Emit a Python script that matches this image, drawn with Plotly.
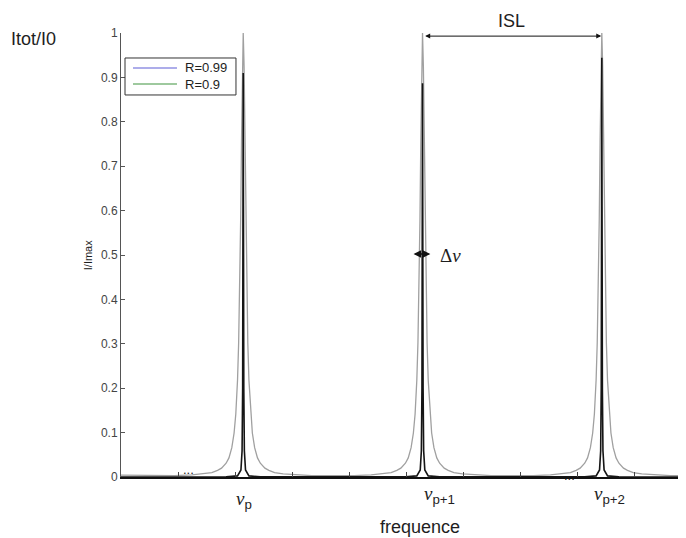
import plotly.graph_objects as go

# peak positions (x axis in phase units, ticks at integers)
peak_centers = [3.1416, 6.2832, 9.4248]

# R=0.9 curve (wide, grey), offsets from each peak and values
gray_offsets = [-1.57, -1.2, -0.9, -0.7, -0.55, -0.45, -0.38, -0.3, -0.25, -0.2, -0.16, -0.13,
                -0.1, -0.08, -0.06, -0.045, -0.03, -0.015, 0, 0.015, 0.03, 0.045, 0.06, 0.08,
                0.1, 0.13, 0.16, 0.2, 0.25, 0.3, 0.38, 0.45, 0.55, 0.7, 0.9, 1.2, 1.57]
gray_profile = [0.003, 0.003, 0.005, 0.007, 0.01, 0.015, 0.02, 0.031, 0.043, 0.066, 0.099, 0.142,
                0.218, 0.303, 0.437, 0.578, 0.755, 0.925, 1.0, 0.925, 0.755, 0.578, 0.437, 0.303,
                0.218, 0.142, 0.099, 0.066, 0.043, 0.031, 0.02, 0.015, 0.01, 0.007, 0.005, 0.003, 0.003]

# R=0.99 curve (narrow, black)
black_offsets = [-1.57, -0.3, -0.1, -0.04, -0.02, -0.01, -0.004, 0, 0.004, 0.01, 0.02, 0.04, 0.1, 0.3, 1.57]
black_profile = [0.0, 0.0003, 0.0025, 0.016, 0.059, 0.2, 0.61, None, 0.61, 0.2, 0.059, 0.016, 0.0025, 0.0003, 0.0]
black_peaks = [0.91, 0.887, 0.944]

y_ticks = [0, 0.1, 0.2, 0.3, 0.4, 0.5, 0.6, 0.7, 0.8, 0.9, 1]
y_ticktext = ['0', '0.1', '0.2', '0.3', '0.4', '0.5', '0.6', '0.7', '0.8', '0.9', '1']
x_ticks = [2, 3, 4, 5, 6, 7, 8, 9, 10]
peak_labels = ['p', 'p+1', 'p+2']
legend_names = ['R=0.99', 'R=0.9']
legend_colors = ['#5c5cd6', '#3f943f']

gx, gy = [1.0], [0.004]
for c in peak_centers:
    gx += [c + o for o in gray_offsets]
    gy += gray_profile

bx, by = [1.0], [0.0]
for c, h in zip(peak_centers, black_peaks):
    bx += [c + o for o in black_offsets]
    by += [h if v is None else v for v in black_profile]

ARIAL = 'Liberation Sans, Arial'
TIMES = 'Liberation Serif, Times New Roman'

fig = go.Figure()
fig.add_trace(go.Scatter(x=gx, y=gy, mode='lines', line=dict(color='#a0a0a0', width=1.3),
                         showlegend=False, hoverinfo='skip'))
fig.add_trace(go.Scatter(x=bx, y=by, mode='lines', line=dict(color='#151515', width=1.6),
                         showlegend=False, hoverinfo='skip'))


def txt(x, y, s, size, xref='paper', yref='paper', family=ARIAL, **kw):
    return dict(xref=xref, yref=yref, x=x, y=y, text=s, showarrow=False, xanchor=kw.pop('xanchor', 'center'),
                yanchor='middle', font=dict(family=family, size=size, color='#1e1e1e'), **kw)


ann = [
    txt(-0.154, 0.9865, 'Itot/I0', 18),
    txt(-0.058, 0.5, 'I/Imax', 11, textangle=-90),
    txt(0.529, -0.1126, 'frequence', 18),
    txt(2.174, 0.018, '...', 13, xref='x'),
    txt(8.85, 0.0045, '...', 13, xref='x'),
    txt(0.692, 1.026, 'ISL', 18),
    txt(6.78, 0.5, 'Δ<i>ν</i>', 19, xref='x', yref='y', family=TIMES),
]
label_x = [2.98, 6.274, 9.253]
label_y = [-0.052, -0.041, -0.041]
for lx, ly, lab in zip(label_x, label_y, peak_labels):
    ann.append(txt(lx, ly, "<i>ν</i><sub><span style='font-family:Liberation Sans'>" + lab + "</span></sub>",
                   19, xref='x', family=TIMES, xanchor='left'))

# ISL double arrow
ann.append(dict(xref='x', yref='y', x=peak_centers[2] - 0.01, y=0.993, axref='x', ayref='y',
                ax=peak_centers[1] + 0.02, ay=0.993, text='', showarrow=True, arrowside='end+start',
                arrowhead=2, startarrowhead=2, arrowsize=1, arrowwidth=1, arrowcolor='#111'))
# delta nu double arrow
ann.append(dict(xref='x', yref='y', x=6.42, y=0.502, axref='x', ayref='y', ax=6.10, ay=0.502,
                text='', showarrow=True, arrowside='end+start', arrowhead=2, startarrowhead=2,
                arrowsize=1, arrowwidth=1.5, arrowcolor='#111'))

# legend box drawn by hand (blue / green samples as in the original legend)
shapes = [dict(type='rect', xref='paper', yref='paper', x0=0.0071, x1=0.2035, y0=0.8604, y1=0.9437,
               line=dict(color='#333', width=1), fillcolor='white', layer='above')]
for i, (name, col) in enumerate(zip(legend_names, legend_colors)):
    ly = 0.9212 - i * 0.0361
    shapes.append(dict(type='line', xref='paper', yref='paper', x0=0.0212, x1=0.0991, y0=ly, y1=ly,
                       line=dict(color=col, width=1.2), layer='above'))
    ann.append(txt(0.1097, ly, name, 13, xanchor='left'))

fig.update_layout(
    width=678, height=530,
    margin=dict(l=113, r=0, t=25, b=61),
    paper_bgcolor='white', plot_bgcolor='white',
    showlegend=False,
    annotations=ann,
    shapes=shapes,
    xaxis=dict(range=[1, 10.9], showgrid=False, zeroline=False, showline=True, linecolor='#111',
               linewidth=2, ticks='inside', tickvals=x_ticks, ticklen=5, tickcolor='#444',
               showticklabels=False),
    yaxis=dict(range=[0, 1], showgrid=False, zeroline=False, showline=True, linecolor='#555',
               linewidth=1, ticks='inside', tickvals=y_ticks, ticktext=y_ticktext, ticklen=4,
               tickcolor='#555', tickfont=dict(family=ARIAL, size=12, color='#444')),
)

fig.write_html("out.html")
